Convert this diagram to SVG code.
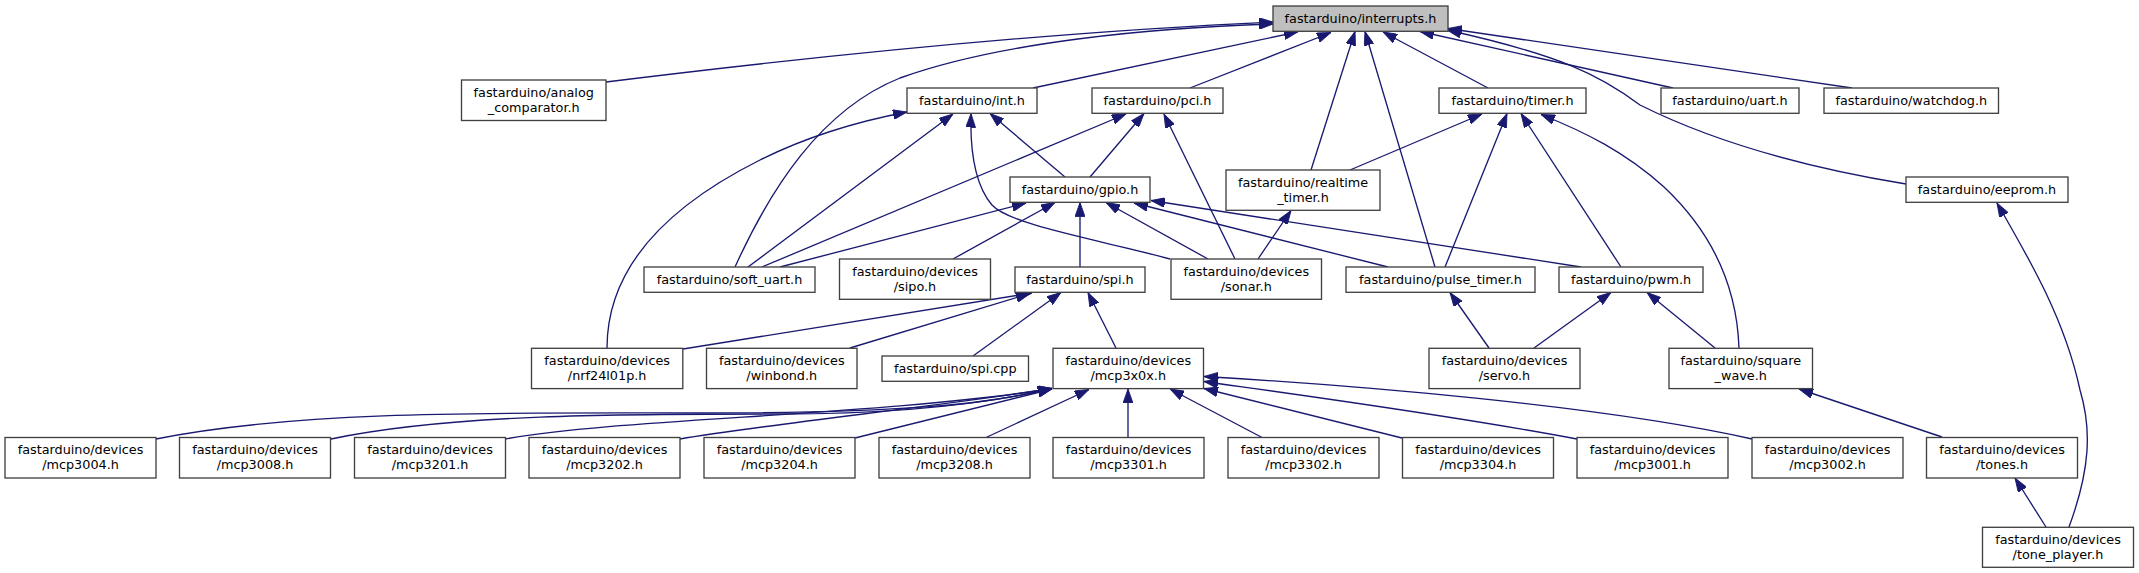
<svg xmlns="http://www.w3.org/2000/svg" width="2139" height="573" viewBox="0 0 2139 573">
<style>
.node rect { fill: #ffffff; stroke: #404040; stroke-width: 1.33; }
.node.cur rect { fill: #bfbfbf; }
.node text { font-family: "DejaVu Sans", "Liberation Sans", sans-serif; font-size: 12.8px; fill: #000000; text-anchor: middle; }
.e { fill: none; stroke: #191970; stroke-width: 1.33; marker-end: url(#ah); }
</style>
<defs>
<marker id="ah" markerUnits="userSpaceOnUse" markerWidth="14" markerHeight="10" viewBox="0 0 13.3 9.4" refX="13.3" refY="4.7" orient="auto">
<path d="M0,0 L13.3,4.7 L0,9.4 z" fill="#191970" stroke="#191970" stroke-width="0.8"/>
</marker>
</defs>
<rect x="0" y="0" width="2139" height="573" fill="#ffffff"/>

<g id="edges">
<!-- to interrupts.h -->
<path class="e" d="M606,82 C800,58 1050,32 1273,22"/>
<path class="e" d="M735,267 C770,190 820,110 900,78 C1000,42 1150,28 1273,24"/>
<path class="e" d="M1033,88 L1298,31.8"/>
<path class="e" d="M1190,88 L1331,32.5"/>
<path class="e" d="M1311,170 L1355,31.5"/>
<path class="e" d="M1435,267 L1365,31.5"/>
<path class="e" d="M1488,88 L1383,32"/>
<path class="e" d="M1673,88 L1420,31.5"/>
<path class="e" d="M1852,88 L1448,28.5"/>
<path class="e" d="M1906,184 C1760,160 1680,125 1640,105 C1600,75 1560,55 1447,30"/>
<!-- to int.h -->
<path class="e" d="M607,348 C607,260 680,200 760,160 C810,135 860,121 907,112"/>
<path class="e" d="M748,267 L953,114"/>
<path class="e" d="M1065,177 L990,113.5"/>
<path class="e" d="M1170,259 C1100,240 1010,225 992,205 C975,185 970,150 971,113.5"/>
<!-- to pci.h -->
<path class="e" d="M762,267 L1126,114"/>
<path class="e" d="M1090,177 L1144,113.5"/>
<path class="e" d="M1235,259 L1164,114"/>
<!-- to timer.h -->
<path class="e" d="M1350,170 L1482,114"/>
<path class="e" d="M1445,267 L1507,113.5"/>
<path class="e" d="M1621,267 L1521,113.5"/>
<path class="e" d="M1739,348 C1737,290 1715,235 1664,187 C1625,152 1585,132 1541,114.5"/>
<!-- to gpio.h -->
<path class="e" d="M780,267 L1026,203"/>
<path class="e" d="M953,259 L1055,202.5"/>
<path class="e" d="M1080,267 L1080,202.5"/>
<path class="e" d="M1208,259 L1106,202.5"/>
<path class="e" d="M1388,267 L1134,203"/>
<path class="e" d="M1581,267 L1151,200.5"/>
<!-- to realtime_timer.h -->
<path class="e" d="M1258,259 L1291,210.5"/>
<!-- to eeprom.h -->
<path class="e" d="M2069,527 C2090,470 2092,430 2080,390 C2065,320 2030,260 1997,203"/>
<!-- to spi.h -->
<path class="e" d="M683,349 L1032,293"/>
<path class="e" d="M850,348 L1030,293.5"/>
<path class="e" d="M973,356 L1061,292.5"/>
<path class="e" d="M1116,348 L1088,292.5"/>
<!-- to pulse_timer.h / pwm.h -->
<path class="e" d="M1489,348 L1450,292.5"/>
<path class="e" d="M1534,348 L1611,292.5"/>
<path class="e" d="M1715,348 L1647,292.5"/>
<!-- to square_wave.h / tones.h -->
<path class="e" d="M1942,437 L1799,389"/>
<path class="e" d="M2046,527 L2015,478"/>
<!-- to mcp3x0x.h -->
<path class="e" d="M156,439 C300,410 500,413 700,413 C900,413 985,405 1052,388.5"/>
<path class="e" d="M331,439 C450,414 620,414 780,414 C900,414 990,403 1052,388.5"/>
<path class="e" d="M505,439 C620,418 880,416 1052,388.5"/>
<path class="e" d="M680,439 C760,425 950,405 1052,388.5"/>
<path class="e" d="M855,438 L1052,389"/>
<path class="e" d="M985,438 L1089,389.5"/>
<path class="e" d="M1128,438 L1128,389"/>
<path class="e" d="M1263,438 L1170,389"/>
<path class="e" d="M1402,438 L1204,388.5"/>
<path class="e" d="M1577,439 C1450,415 1300,395 1204,381.5"/>
<path class="e" d="M1752,439 C1600,405 1350,385 1204,376.5"/>
</g>

<g id="n_interrupts" class="node cur"><rect x="1273" y="6" width="175" height="25.3"/><text x="1360.5" y="22.8">fastarduino/interrupts.h</text></g>
<g id="n_analog_comparator" class="node"><rect x="461.5" y="80" width="144.5" height="40.5"/><text x="533.75" y="96.5">fastarduino/analog</text><text x="533.75" y="111.5">_comparator.h</text></g>
<g id="n_int" class="node"><rect x="907" y="88" width="130" height="25.3"/><text x="972" y="104.8">fastarduino/int.h</text></g>
<g id="n_pci" class="node"><rect x="1092" y="88" width="131" height="25.3"/><text x="1157.5" y="104.8">fastarduino/pci.h</text></g>
<g id="n_timer" class="node"><rect x="1439" y="88" width="147" height="25.3"/><text x="1512.5" y="104.8">fastarduino/timer.h</text></g>
<g id="n_uart" class="node"><rect x="1661" y="88" width="138" height="25.3"/><text x="1730" y="104.8">fastarduino/uart.h</text></g>
<g id="n_watchdog" class="node"><rect x="1824" y="88" width="174.5" height="25.3"/><text x="1911.25" y="104.8">fastarduino/watchdog.h</text></g>
<g id="n_gpio" class="node"><rect x="1010" y="177" width="140" height="25.3"/><text x="1080" y="193.8">fastarduino/gpio.h</text></g>
<g id="n_realtime_timer" class="node"><rect x="1226" y="170" width="154" height="40.3"/><text x="1303" y="186.5">fastarduino/realtime</text><text x="1303" y="201.5">_timer.h</text></g>
<g id="n_eeprom" class="node"><rect x="1906" y="177" width="162" height="25.3"/><text x="1987" y="193.8">fastarduino/eeprom.h</text></g>
<g id="n_soft_uart" class="node"><rect x="644" y="267" width="171" height="25.3"/><text x="729.5" y="283.8">fastarduino/soft_uart.h</text></g>
<g id="n_sipo" class="node"><rect x="839.5" y="259" width="151" height="40.3"/><text x="915" y="275.5">fastarduino/devices</text><text x="915" y="290.5">/sipo.h</text></g>
<g id="n_spi_h" class="node"><rect x="1015" y="267" width="130" height="25.3"/><text x="1080" y="283.8">fastarduino/spi.h</text></g>
<g id="n_sonar" class="node"><rect x="1171" y="259" width="150.5" height="40.3"/><text x="1246.25" y="275.5">fastarduino/devices</text><text x="1246.25" y="290.5">/sonar.h</text></g>
<g id="n_pulse_timer" class="node"><rect x="1346" y="267" width="189" height="25.3"/><text x="1440.5" y="283.8">fastarduino/pulse_timer.h</text></g>
<g id="n_pwm" class="node"><rect x="1559" y="267" width="144" height="25.3"/><text x="1631" y="283.8">fastarduino/pwm.h</text></g>
<g id="n_nrf24l01p" class="node"><rect x="531.5" y="348.3" width="151.3" height="40.3"/><text x="607.15" y="364.8">fastarduino/devices</text><text x="607.15" y="379.8">/nrf24l01p.h</text></g>
<g id="n_winbond" class="node"><rect x="706.5" y="348.3" width="150.5" height="40.3"/><text x="781.75" y="364.8">fastarduino/devices</text><text x="781.75" y="379.8">/winbond.h</text></g>
<g id="n_spi_cpp" class="node"><rect x="882" y="356" width="146.5" height="25.3"/><text x="955.25" y="372.8">fastarduino/spi.cpp</text></g>
<g id="n_mcp3x0x" class="node"><rect x="1053" y="348.3" width="150.5" height="40.3"/><text x="1128.25" y="364.8">fastarduino/devices</text><text x="1128.25" y="379.8">/mcp3x0x.h</text></g>
<g id="n_servo" class="node"><rect x="1429" y="348.3" width="151" height="40.3"/><text x="1504.5" y="364.8">fastarduino/devices</text><text x="1504.5" y="379.8">/servo.h</text></g>
<g id="n_square_wave" class="node"><rect x="1669" y="348.3" width="143.5" height="40.3"/><text x="1740.75" y="364.8">fastarduino/square</text><text x="1740.75" y="379.8">_wave.h</text></g>
<g id="n_mcp3004" class="node"><rect x="5" y="437.5" width="151" height="40.5"/><text x="80.5" y="454">fastarduino/devices</text><text x="80.5" y="469">/mcp3004.h</text></g>
<g id="n_mcp3008" class="node"><rect x="179.5" y="437.5" width="151" height="40.5"/><text x="255" y="454">fastarduino/devices</text><text x="255" y="469">/mcp3008.h</text></g>
<g id="n_mcp3201" class="node"><rect x="354.5" y="437.5" width="151" height="40.5"/><text x="430" y="454">fastarduino/devices</text><text x="430" y="469">/mcp3201.h</text></g>
<g id="n_mcp3202" class="node"><rect x="529" y="437.5" width="151" height="40.5"/><text x="604.5" y="454">fastarduino/devices</text><text x="604.5" y="469">/mcp3202.h</text></g>
<g id="n_mcp3204" class="node"><rect x="704" y="437.5" width="151" height="40.5"/><text x="779.5" y="454">fastarduino/devices</text><text x="779.5" y="469">/mcp3204.h</text></g>
<g id="n_mcp3208" class="node"><rect x="879" y="437.5" width="151" height="40.5"/><text x="954.5" y="454">fastarduino/devices</text><text x="954.5" y="469">/mcp3208.h</text></g>
<g id="n_mcp3301" class="node"><rect x="1053" y="437.5" width="151" height="40.5"/><text x="1128.5" y="454">fastarduino/devices</text><text x="1128.5" y="469">/mcp3301.h</text></g>
<g id="n_mcp3302" class="node"><rect x="1228" y="437.5" width="151" height="40.5"/><text x="1303.5" y="454">fastarduino/devices</text><text x="1303.5" y="469">/mcp3302.h</text></g>
<g id="n_mcp3304" class="node"><rect x="1402.5" y="437.5" width="151" height="40.5"/><text x="1478" y="454">fastarduino/devices</text><text x="1478" y="469">/mcp3304.h</text></g>
<g id="n_mcp3001" class="node"><rect x="1577" y="437.5" width="151" height="40.5"/><text x="1652.5" y="454">fastarduino/devices</text><text x="1652.5" y="469">/mcp3001.h</text></g>
<g id="n_mcp3002" class="node"><rect x="1752" y="437.5" width="151" height="40.5"/><text x="1827.5" y="454">fastarduino/devices</text><text x="1827.5" y="469">/mcp3002.h</text></g>
<g id="n_tones" class="node"><rect x="1926.5" y="437.5" width="151" height="40.5"/><text x="2002" y="454">fastarduino/devices</text><text x="2002" y="469">/tones.h</text></g>
<g id="n_tone_player" class="node"><rect x="1982.5" y="527.3" width="151" height="40"/><text x="2058" y="543.8">fastarduino/devices</text><text x="2058" y="558.8">/tone_player.h</text></g>
</svg>
